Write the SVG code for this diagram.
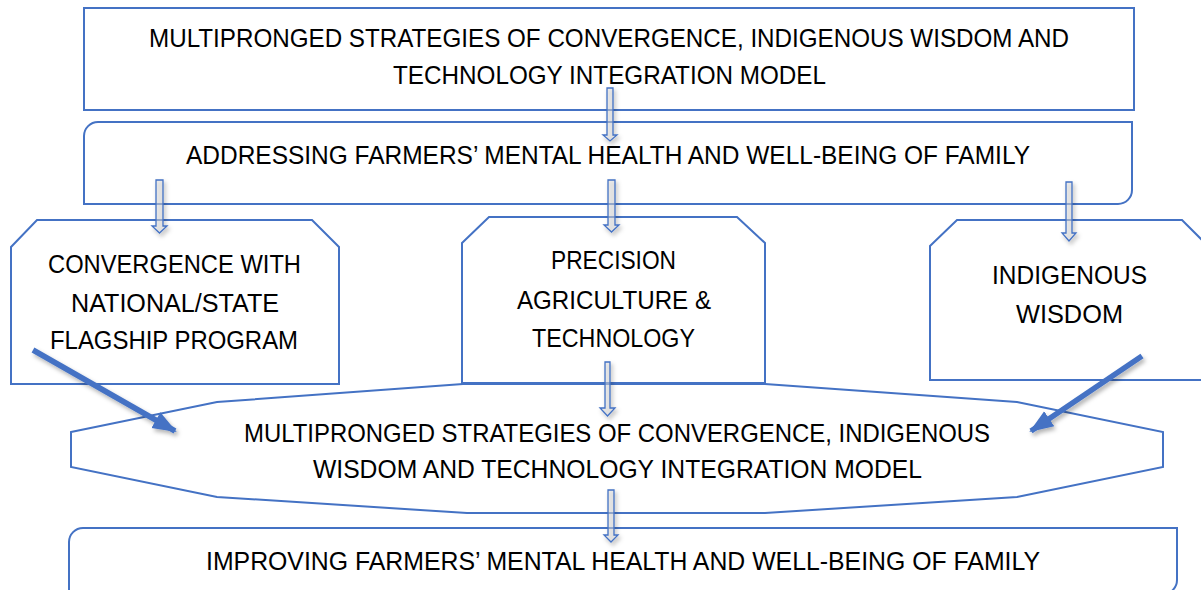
<svg xmlns="http://www.w3.org/2000/svg" width="1201" height="590" viewBox="0 0 1201 590">
<defs>
<style>
.box{fill:none;stroke:#4472C4;stroke-width:2}
.t{font-family:"Liberation Sans",Arial,sans-serif;font-size:26px;fill:#000;text-anchor:middle}
.ba{fill:#d9d9d9;fill-opacity:0.5;stroke:#4472C4;stroke-width:1.3;filter:url(#sh)}
.thick{stroke:#4472C4;stroke-width:5.5;fill:none;filter:url(#sh)}
</style>
<filter id="sh" x="-50%" y="-50%" width="200%" height="200%">
<feDropShadow dx="2" dy="3" stdDeviation="2" flood-color="#000" flood-opacity="0.3"/>
</filter>
<marker id="ah" markerUnits="userSpaceOnUse" markerWidth="26" markerHeight="22" refX="22" refY="11" orient="auto">
<path d="M0,2 L24,11 L0,20 Z" fill="#4472C4"/>
</marker>
</defs>
<rect width="1201" height="590" fill="#fff"/>

<g id="n-top">
<rect class="box" x="84" y="8" width="1050" height="102"/>
<text class="t" x="609" y="47" textLength="920" lengthAdjust="spacingAndGlyphs">MULTIPRONGED STRATEGIES OF CONVERGENCE, INDIGENOUS WISDOM AND</text>
<text class="t" x="609.5" y="84" textLength="433" lengthAdjust="spacingAndGlyphs">TECHNOLOGY INTEGRATION MODEL</text>
</g>

<g id="n-addressing">
<path class="box" d="M98,122 H1132 V190 A14,14 0 0 1 1118,204 H84 V136 A14,14 0 0 1 98,122 Z"/>
<text class="t" x="608" y="164" textLength="844" lengthAdjust="spacingAndGlyphs">ADDRESSING FARMERS’ MENTAL HEALTH AND WELL-BEING OF FAMILY</text>
</g>

<g id="n-convergence">
<polygon class="box" points="11,247 37,220 312,220 339,247 339,384 11,384"/>
<text class="t" x="174.5" y="273" textLength="253" lengthAdjust="spacingAndGlyphs">CONVERGENCE WITH</text>
<text class="t" x="175" y="312" textLength="208" lengthAdjust="spacingAndGlyphs">NATIONAL/STATE</text>
<text class="t" x="174" y="349" textLength="248" lengthAdjust="spacingAndGlyphs">FLAGSHIP PROGRAM</text>
</g>

<g id="n-precision">
<polygon class="box" points="462,243 489,217 737,217 765,243 765,383 462,383"/>
<text class="t" x="613.5" y="269" textLength="125" lengthAdjust="spacingAndGlyphs">PRECISION</text>
<text class="t" x="614" y="309" textLength="194" lengthAdjust="spacingAndGlyphs">AGRICULTURE &amp;</text>
<text class="t" x="613.5" y="347" textLength="163" lengthAdjust="spacingAndGlyphs">TECHNOLOGY</text>
</g>

<g id="n-indigenous">
<polygon class="box" points="930,246 957,220 1182,220 1208,246 1208,380 930,380"/>
<text class="t" x="1069.5" y="284" textLength="155" lengthAdjust="spacingAndGlyphs">INDIGENOUS</text>
<text class="t" x="1069.5" y="323" textLength="107" lengthAdjust="spacingAndGlyphs">WISDOM</text>
</g>

<g id="n-model">
<polygon class="box" points="71,432 217,402 463,384 765,384 1017,402 1163,432 1163,467 1017,497 765,513 467,513 217,497 71,467"/>
<text class="t" x="617" y="442" textLength="746" lengthAdjust="spacingAndGlyphs">MULTIPRONGED STRATEGIES OF CONVERGENCE, INDIGENOUS</text>
<text class="t" x="617.5" y="478" textLength="609" lengthAdjust="spacingAndGlyphs">WISDOM AND TECHNOLOGY INTEGRATION MODEL</text>
</g>

<g id="n-improving">
<path class="box" d="M69,600 V542 A14,14 0 0 1 83,528 H1177 V580 A14,14 0 0 1 1163,594"/>
<text class="t" x="623" y="570" textLength="834" lengthAdjust="spacingAndGlyphs">IMPROVING FARMERS’ MENTAL HEALTH AND WELL-BEING OF FAMILY</text>
</g>

<g id="connectors">
<path class="ba" d="M607,88 H613 V135 H617 L610,141 L603,135 H607 Z"/>
<path class="ba" d="M156,180 H163 V226 H167 L159.5,233 L152,226 H156 Z"/>
<path class="ba" d="M608,180 H615 V225 H619 L611.5,232 L604,225 H608 Z"/>
<path class="ba" d="M1066,182 H1072 V233 H1076 L1069,241 L1062,233 H1066 Z"/>
<path class="ba" d="M605,362 H610 V408 H615 L607.5,416 L600,408 H605 Z"/>
<path class="ba" d="M608,490 H614 V535 H618 L611,542 L604,535 H608 Z"/>
<line class="thick" x1="33" y1="350" x2="175" y2="431" marker-end="url(#ah)"/>
<line class="thick" x1="1142" y1="356" x2="1031" y2="431" marker-end="url(#ah)"/>
</g>
</svg>
